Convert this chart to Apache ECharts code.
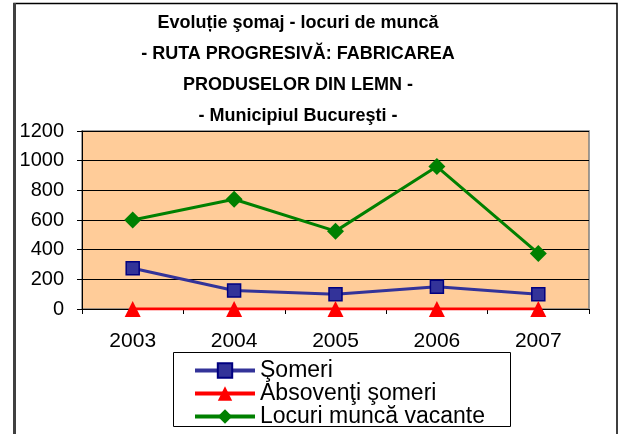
<!DOCTYPE html>
<html>
<head>
<meta charset="utf-8">
<script src="https://cdn.jsdelivr.net/npm/echarts@6/dist/echarts.min.js"></script>
<style>html,body{margin:0;padding:0;background:#fff}#c{width:621px;height:434px}</style>
</head>
<body>
<div id="c"></div>
<script>
const categories = ['2003', '2004', '2005', '2006', '2007'];
const someri = [275, 125, 100, 150, 100];
const absolventiSomeri = [0, 0, 0, 0, 0];
const locuriVacante = [600, 740, 525, 960, 375];
const yTicks = { min: 0, max: 1200, interval: 200 };
const titleText = 'Evoluție şomaj - locuri de muncă\n- RUTA PROGRESIVĂ: FABRICAREA\nPRODUSELOR DIN LEMN -\n- Municipiul Bucureşti -';

const FONT = '"Liberation Sans", Arial, sans-serif';
const chart = echarts.init(document.getElementById('c'), null, { renderer: 'canvas' });
chart.setOption({
  animation: false,
  backgroundColor: '#ffffff',
  textStyle: { fontFamily: FONT },
  title: {
    text: titleText,
    left: 298, top: 8, padding: 0, textAlign: 'center',
    textStyle: { fontFamily: FONT, fontSize: 18, fontWeight: 'bold', color: '#000', lineHeight: 31 }
  },
  grid: {
    left: 82, right: 32, top: 131, bottom: 125,
    show: true, backgroundColor: '#FFCC99', borderColor: '#808080', borderWidth: 1.5
  },
  legend: {
    orient: 'vertical', left: 193, top: 359, padding: 0, itemGap: 0,
    itemWidth: 60, itemHeight: 18,
    lineStyle: { width: 4 },
    textStyle: { fontFamily: FONT, fontSize: 23, lineHeight: 22.5, color: '#000' },
    data: [
      { name: 'Şomeri', lineStyle: { width: 4 } },
      { name: 'Absovenţi şomeri', lineStyle: { width: 4 } },
      { name: 'Locuri muncă vacante', lineStyle: { width: 4 } }
    ]
  },
  xAxis: {
    type: 'category', data: categories, boundaryGap: true,
    axisLine: { show: true, lineStyle: { color: '#000', width: 1 } },
    axisTick: { show: true, inside: false, length: 5, alignWithLabel: false, lineStyle: { color: '#000' } },
    axisLabel: { fontFamily: FONT, fontSize: 21, color: '#000', margin: 22 },
    splitLine: { show: false }
  },
  yAxis: {
    type: 'value', min: yTicks.min, max: yTicks.max, interval: yTicks.interval,
    axisLine: { show: true, lineStyle: { color: '#000', width: 1 } },
    axisTick: { show: true, length: 5, lineStyle: { color: '#000' } },
    axisLabel: { fontFamily: FONT, fontSize: 20, color: '#000', margin: 18, formatter: v => String(v) },
    splitLine: { show: true, lineStyle: { color: '#000', width: 1 } }
  },
  series: [
    {
      name: 'Şomeri', type: 'line', data: someri,
      symbol: 'rect', symbolSize: 13,
      lineStyle: { color: '#333399', width: 3 },
      itemStyle: { color: '#333399', borderColor: '#000080', borderWidth: 1.5 },
      z: 3
    },
    {
      name: 'Absovenţi şomeri', type: 'line', data: absolventiSomeri,
      symbol: 'triangle', symbolSize: 16,
      lineStyle: { color: '#FF0000', width: 3 },
      itemStyle: { color: '#FF0000', borderWidth: 0 },
      z: 4
    },
    {
      name: 'Locuri muncă vacante', type: 'line', data: locuriVacante,
      symbol: 'diamond', symbolSize: 17,
      lineStyle: { color: '#008000', width: 3 },
      itemStyle: { color: '#008000', borderWidth: 0 },
      z: 3
    }
  ],
  graphic: [
    { type: 'rect', shape: { x: 14, y: 3.5, width: 603, height: 440 }, style: { fill: null, stroke: '#000', lineWidth: 1.5 }, silent: true },
    { type: 'line', shape: { x1: 14.5, y1: 3, x2: 14.5, y2: 434 }, style: { stroke: '#404040', lineWidth: 3 }, silent: true },
    { type: 'rect', shape: { x: 173.5, y: 352.5, width: 337, height: 74 }, style: { fill: null, stroke: '#000', lineWidth: 1 }, silent: true }
  ]
});
</script>
</body>
</html>
